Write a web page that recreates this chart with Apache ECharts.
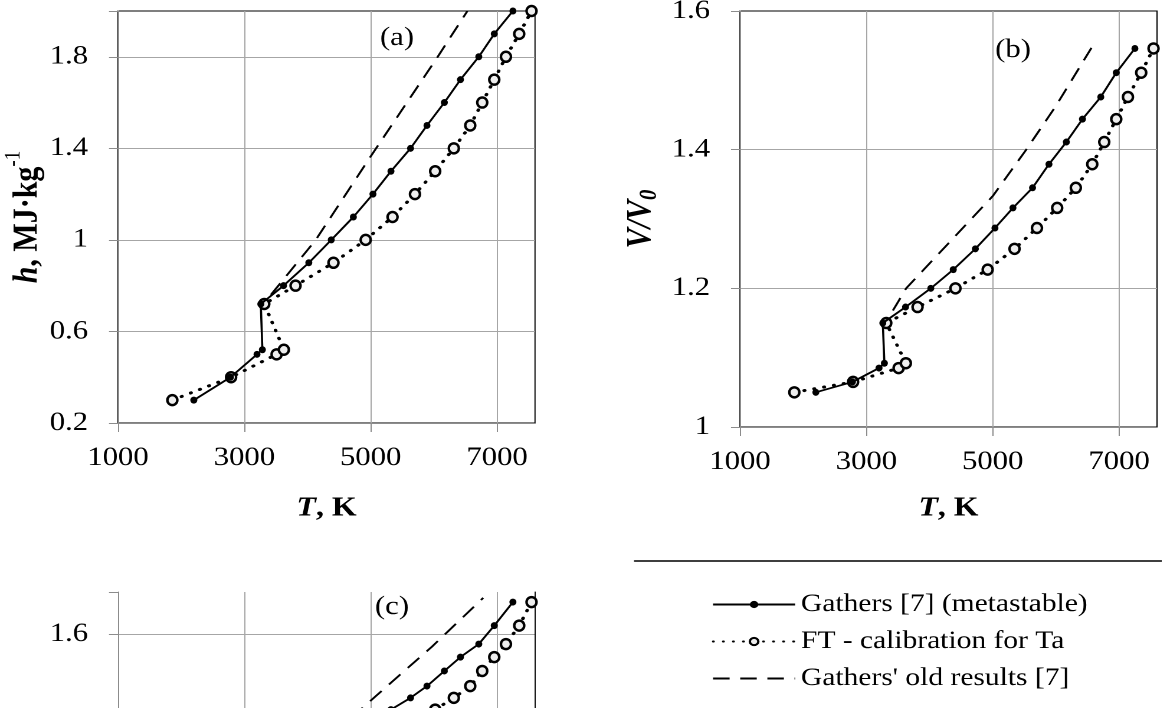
<!DOCTYPE html>
<html>
<head>
<meta charset="utf-8">
<script src="https://cdn.jsdelivr.net/npm/echarts@6/dist/echarts.min.js"></script>
<style>
html,body{margin:0;padding:0;background:#fff;overflow:hidden;}
/* 原图横向被拉宽了，这里整体横向拉伸 */
#chartmain{width:984.7px;height:708px;transform:scaleX(1.18);transform-origin:0 0;}
</style>
</head>
<body>
<div id="chartmain"></div>
<script>
// 温度 T, K (两条主曲线的点，三个图共用)
var tGathers = [2200, 2780, 3200, 3285, 3260, 3620, 4020, 4375, 4725, 5035, 5320, 5630, 5890, 6165, 6420, 6710, 6955, 7250];
var tFT      = [1860, 2790, 3510, 3625, 3315, 3810, 4410, 4920, 5345, 5700, 6020, 6315, 6575, 6765, 6955, 7140, 7350, 7545];
// (a) h, MJ/kg
var hValues = [0.30, 0.40, 0.50, 0.52, 0.72, 0.80, 0.90, 1.00, 1.10, 1.20, 1.30, 1.40, 1.50, 1.60, 1.70, 1.80, 1.90, 2.00];
// (b) V/V0
var vValues = [1.050, 1.065, 1.085, 1.092, 1.150, 1.173, 1.200, 1.227, 1.257, 1.287, 1.316, 1.345, 1.379, 1.411, 1.444, 1.476, 1.511, 1.546];
// (c) 只看得到最上面一段 (从第 10 个点起)
var cStart = 10;
var cValues = [1.420, 1.448, 1.476, 1.512, 1.545, 1.576, 1.620, 1.676];
// Gathers 旧结果 (虚线)
var tOldH = [3420, 4130, 5000, 6060, 6530];
var hOld  = [0.76, 1.00, 1.365, 1.80, 2.00];
var tOldV = [3420, 3630, 4300, 5000, 5530, 6000, 6590];
var vOld  = [1.168, 1.200, 1.265, 1.333, 1.400, 1.463, 1.551];
var tOldC = [4700, 4890, 5970, 6780];
var cOld  = [1.400, 1.427, 1.570, 1.686];
// 坐标轴刻度
var xTicks = {min: 1000, max: 7600, interval: 2000};
var hTicks = {min: 0.2, max: 2.0, interval: 0.4};
var vTicks = {min: 1.0, max: 1.6, interval: 0.2};
var cTicks = {min: 1.2, max: 1.7, interval: 0.4};

var names = ['Gathers [7] (metastable)', 'FT - calibration for Ta', "Gathers' old results [7]"];
var FONT = 'Liberation Serif, Times New Roman, serif';
var SX = 1.18;   // 横向拉伸比例
function px(x){ return x / SX; }

function pairs(xs, ys){
	var out = [];
	for(var i=0;i<ys.length;i++){
		out.push([xs[i], ys[i]]);
	}
	return out;
}

function xAxisOf(gi, withName, gap){
	return {
		type:'value', gridIndex:gi, min:xTicks.min, max:xTicks.max, interval:xTicks.interval,
		name: withName ? '{i|T}{b|, K}' : '',
		nameLocation:'middle', nameGap:gap,
		nameTextStyle:{rich:{
			i:{fontFamily:FONT, fontSize:27, fontStyle:'italic', fontWeight:'bold', color:'#000'},
			b:{fontFamily:FONT, fontSize:27, fontWeight:'bold', color:'#000'}
		}},
		axisLine:{lineStyle:{color:'#8c8c8c', width:1}},
		axisTick:{length:9, lineStyle:{color:'#8c8c8c'}},
		axisLabel:{show:withName, fontFamily:FONT, fontSize:26, color:'#000', margin:22, showMaxLabel:false,
			formatter:function(v){ return v >= xTicks.max ? '' : String(v); }},
		splitLine:{show:true, showMaxLine:false, lineStyle:{color:'#a6a6a6', width:1}}
	};
}

function yAxisOf(gi, t, name, rich, gap){
	return {
		type:'value', gridIndex:gi, min:t.min, max:t.max, interval:t.interval,
		name:name, nameLocation:'middle', nameRotate:90, nameGap:gap,
		nameTextStyle:{rich:rich},
		axisLine:{show:true, lineStyle:{color:'#8c8c8c', width:1}},
		axisTick:{show:true, length:px(9), lineStyle:{color:'#8c8c8c'}},
		axisLabel:{fontFamily:FONT, fontSize:26, color:'#000', margin:px(30), padding:[6, 0, 0, 0],
			formatter:function(v){
				// 最上端不是刻度时不标
				if(v > t.max - 1e-9 && Math.abs((v - t.min) / t.interval - Math.round((v - t.min) / t.interval)) > 1e-6) return '';
				return String(+v.toFixed(2));
			}},
		splitLine:{show:true, showMaxLine:false, lineStyle:{color:'#a6a6a6', width:1}}
	};
}

function seriesOf(gi, xg, yg, xf, yf, xo, yo){
	return [{
		name:names[0], type:'line', xAxisIndex:gi, yAxisIndex:gi,
		data:pairs(xg, yg),
		symbol:'circle', symbolSize:[px(7), 7],
		itemStyle:{color:'#000'},
		lineStyle:{color:'#000', width:1.8},
		z:3
	},{
		name:names[1], type:'line', xAxisIndex:gi, yAxisIndex:gi,
		data:pairs(xf, yf),
		symbol:'circle', symbolSize:[px(10), 10],
		itemStyle:{color:'#eeeeee', borderColor:'#000', borderWidth:2.3},
		lineStyle:{color:'#000', width:3, type:[0.5, 8], cap:'round'},
		z:2
	},{
		name:names[2], type:'line', xAxisIndex:gi, yAxisIndex:gi,
		data:pairs(xo, yo),
		symbol:'none',
		itemStyle:{color:'#000'},
		lineStyle:{color:'#000', width:1.8, type:[14, 9]},
		z:1
	}];
}

var hRich = {
	i:{fontFamily:FONT, fontSize:30, fontStyle:'italic', fontWeight:'bold', color:'#000', lineHeight:36, verticalAlign:'bottom'},
	b:{fontFamily:FONT, fontSize:30, fontWeight:'bold', color:'#000', lineHeight:36, verticalAlign:'bottom'},
	sup:{fontFamily:FONT, fontSize:19, color:'#000', lineHeight:36, verticalAlign:'top'}
};
var vRich = {
	i:{fontFamily:FONT, fontSize:30, fontStyle:'italic', fontWeight:'bold', color:'#000', lineHeight:36, verticalAlign:'middle'},
	sub:{fontFamily:FONT, fontSize:21, fontStyle:'italic', fontWeight:'bold', color:'#000', lineHeight:36, verticalAlign:'bottom'}
};

var tC = tGathers.slice(cStart);
var tFC = tFT.slice(cStart);

var yC = yAxisOf(2, cTicks, '', {}, 0);
yC.axisLabel.showMinLabel = false;
var yCRight = {
	type:'value', gridIndex:2, position:'right', min:cTicks.min, max:cTicks.max,
	axisLine:{show:true, lineStyle:{color:'#000', width:1}},
	axisTick:{show:false}, axisLabel:{show:false}, splitLine:{show:false}
};

var myChart = echarts.init(document.getElementById('chartmain'), null, {renderer:'canvas', devicePixelRatio:2});
myChart.setOption({
	animation:false,
	backgroundColor:'#fff',
	grid:[
		{left:px(118), top:11, width:px(417), height:412, show:true, borderColor:'#000', borderWidth:1, containLabel:false, outerBoundsMode:'none'},
		{left:px(740), top:11, width:px(417), height:416, show:true, borderColor:'#000', borderWidth:1, containLabel:false, outerBoundsMode:'none'},
		{left:px(118), top:592, width:px(417), height:210, containLabel:false, outerBoundsMode:'none'}
	],
	xAxis:[xAxisOf(0, true, 72), xAxisOf(1, true, 68), xAxisOf(2, false, 0)],
	yAxis:[
		yAxisOf(0, hTicks, '{i|h}{b|, MJ·kg}{sup|-1}', hRich, px(73)),
		yAxisOf(1, vTicks, '{i|V/V}{sub|0}', vRich, px(78)),
		yC, yCRight
	],
	legend:{
		data:[
			{name:names[0]},
			{name:names[1]},
			{name:names[2], itemStyle:{opacity:0}}
		],
		orient:'vertical', left:px(706), top:587,
		itemWidth:px(82), itemHeight:9, itemGap:12,
		textStyle:{fontFamily:FONT, fontSize:25, color:'#000'}
	},
	graphic:[
		{type:'line', shape:{x1:px(634), y1:561, x2:px(1162), y2:561}, style:{stroke:'#000', lineWidth:1.5}},
		{type:'text', x:px(397), y:38, style:{text:'(a)', font:'26px ' + FONT, fill:'#000', textAlign:'center', textVerticalAlign:'middle'}},
		{type:'text', x:px(1013), y:50, style:{text:'(b)', font:'26px ' + FONT, fill:'#000', textAlign:'center', textVerticalAlign:'middle'}},
		{type:'text', x:px(392), y:607, style:{text:'(c)', font:'26px ' + FONT, fill:'#000', textAlign:'center', textVerticalAlign:'middle'}}
	],
	series:[].concat(
		seriesOf(0, tGathers, hValues, tFT, hValues, tOldH, hOld),
		seriesOf(1, tGathers, vValues, tFT, vValues, tOldV, vOld),
		seriesOf(2, tC, cValues, tFC, cValues, tOldC, cOld)
	)
});
</script>
</body>
</html>
